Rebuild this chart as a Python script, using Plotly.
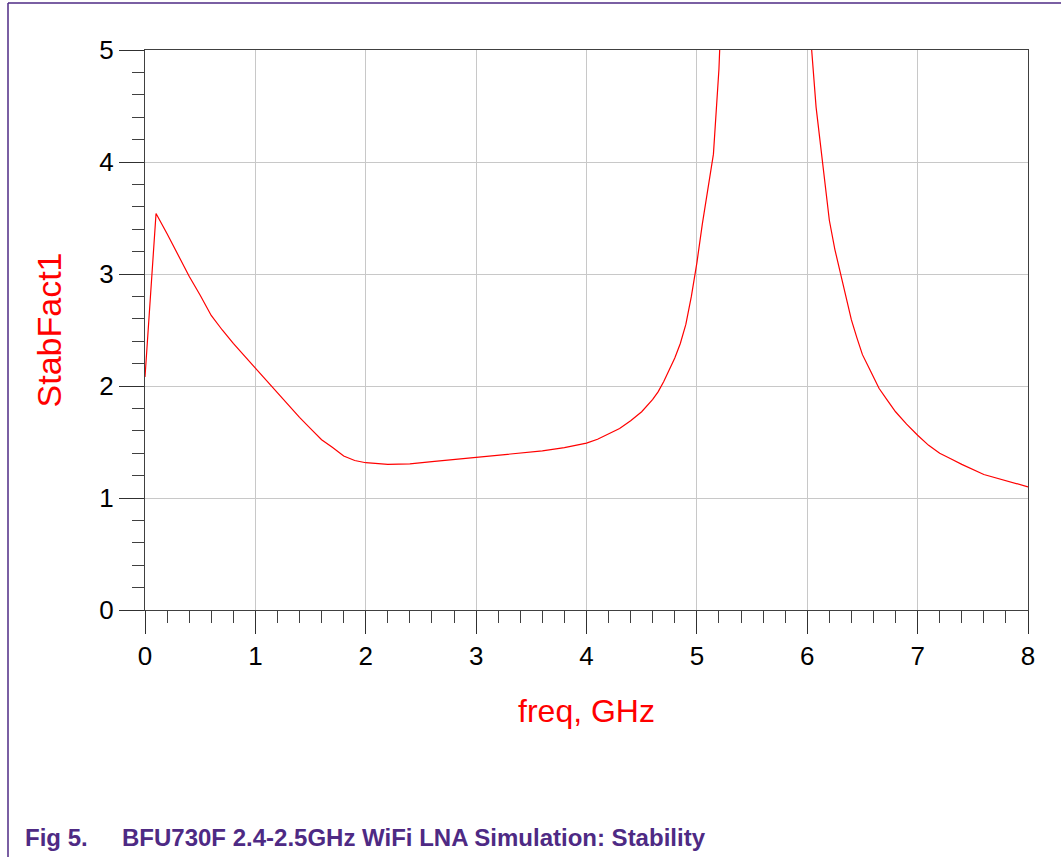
import plotly.graph_objects as go

# ---- data ----
freq_ghz = [0.0, 0.1, 0.2, 0.3, 0.4, 0.5, 0.6, 0.7, 0.8, 1.0, 1.1, 1.2, 1.3, 1.4,
            1.5, 1.6, 1.7, 1.8, 1.9, 2.0, 2.2, 2.4, 2.6, 2.8, 3.0, 3.2, 3.4,
            3.6, 3.8, 4.0, 4.1, 4.2, 4.3, 4.4, 4.5, 4.6, 4.65, 4.7, 4.75, 4.8,
            4.85, 4.9, 4.95, 5.0, 5.05, 5.1, 5.15, 5.2, 5.25, 5.3, 5.4, 5.5,
            5.6, 5.7, 5.8, 5.9, 6.0, 6.04, 6.08, 6.14, 6.2, 6.25, 6.3, 6.35,
            6.4, 6.45, 6.5, 6.57, 6.65, 6.72, 6.8, 6.9, 7.0, 7.1, 7.2, 7.3,
            7.4, 7.6, 7.8, 8.0]
stab_fact1 = [2.08, 3.54, 3.36, 3.17, 2.98, 2.81, 2.63, 2.50, 2.38, 2.16, 2.05,
              1.945, 1.835, 1.72, 1.62, 1.52, 1.45, 1.375, 1.335, 1.315, 1.30,
              1.305, 1.325, 1.345, 1.365, 1.38, 1.40, 1.42, 1.45, 1.49, 1.525,
              1.57, 1.62, 1.69, 1.77, 1.88, 1.95, 2.04, 2.14, 2.25, 2.38, 2.55,
              2.8, 3.10, 3.45, 3.75, 4.07, 4.83, 5.8, 7.0, 10.0, 16.0, 25.0,
              30.0, 20.0, 11.0, 6.3, 5.0, 4.49, 3.99, 3.48, 3.22, 3.0, 2.78,
              2.59, 2.43, 2.28, 2.14, 1.98, 1.88, 1.77, 1.66, 1.56, 1.47, 1.40,
              1.35, 1.30, 1.21, 1.155, 1.10]

x_title = "freq, GHz"
y_title = "StabFact1"
fig_label = "Fig 5."
caption = "BFU730F 2.4-2.5GHz WiFi LNA Simulation: Stability"

FONT = "Arial, 'Liberation Sans', Helvetica, sans-serif"
PURPLE = "#4E2A84"

W, H = 1061, 857
ML, MR, MT, MB = 145, 33, 50, 247
PW, PH = W - ML - MR, H - MT - MB


def px_x(px):
    return (px - ML) / PW


def px_y(py):
    return (H - MB - py) / PH


fig = go.Figure()
fig.add_trace(go.Scatter(
    x=freq_ghz, y=stab_fact1, mode="lines",
    line=dict(color="#FF0000", width=1.2),
    showlegend=False, hoverinfo="x+y",
))

axis_common = dict(
    showline=True, linecolor="#404040", linewidth=1, mirror=True,
    showgrid=True, gridcolor="#C8C8C8", gridwidth=1,
    zeroline=False,
    ticks="outside", tickcolor="#303030", tickwidth=1,
    tickfont=dict(family=FONT, size=26, color="#000000"),
)

fig.update_xaxes(
    range=[0, 8], dtick=1, tick0=0, ticklen=23,
    minor=dict(dtick=0.2, tick0=0, ticks="outside", ticklen=12,
               tickcolor="#404040", tickwidth=1, showgrid=False),
    title=dict(text=x_title, font=dict(family=FONT, size=32, color="#FF0000"),
               standoff=29),
    **axis_common,
)
fig.update_yaxes(
    range=[0, 5], dtick=1, tick0=0, ticklen=25,
    minor=dict(dtick=0.2, tick0=0, ticks="outside", ticklen=12,
               tickcolor="#404040", tickwidth=1, showgrid=False),
    title=dict(text=y_title, font=dict(family=FONT, size=34, color="#FF0000"),
               standoff=27),
    **axis_common,
)

# document frame (purple lines at top and left)
fig.add_shape(type="line", xref="paper", yref="paper",
              x0=px_x(8), x1=px_x(W + 2), y0=px_y(3), y1=px_y(3),
              line=dict(color=PURPLE, width=1.5))
fig.add_shape(type="line", xref="paper", yref="paper",
              x0=px_x(8), x1=px_x(8), y0=px_y(3), y1=px_y(H + 2),
              line=dict(color=PURPLE, width=1.5))

# caption
fig.add_annotation(text=f"<b>{fig_label}</b>", xref="paper", yref="paper",
                   x=px_x(23), y=px_y(838), xanchor="left", yanchor="middle",
                   showarrow=False,
                   font=dict(family=FONT, size=24, color=PURPLE))
fig.add_annotation(text=f"<b>{caption}</b>", xref="paper", yref="paper",
                   x=px_x(120), y=px_y(838), xanchor="left", yanchor="middle",
                   showarrow=False,
                   font=dict(family=FONT, size=24, color=PURPLE))

fig.update_layout(
    width=W, height=H, autosize=False,
    margin=dict(l=ML, r=MR, t=MT, b=MB, pad=0),
    paper_bgcolor="white", plot_bgcolor="white",
    showlegend=False,
)

fig.write_html("out.html")
